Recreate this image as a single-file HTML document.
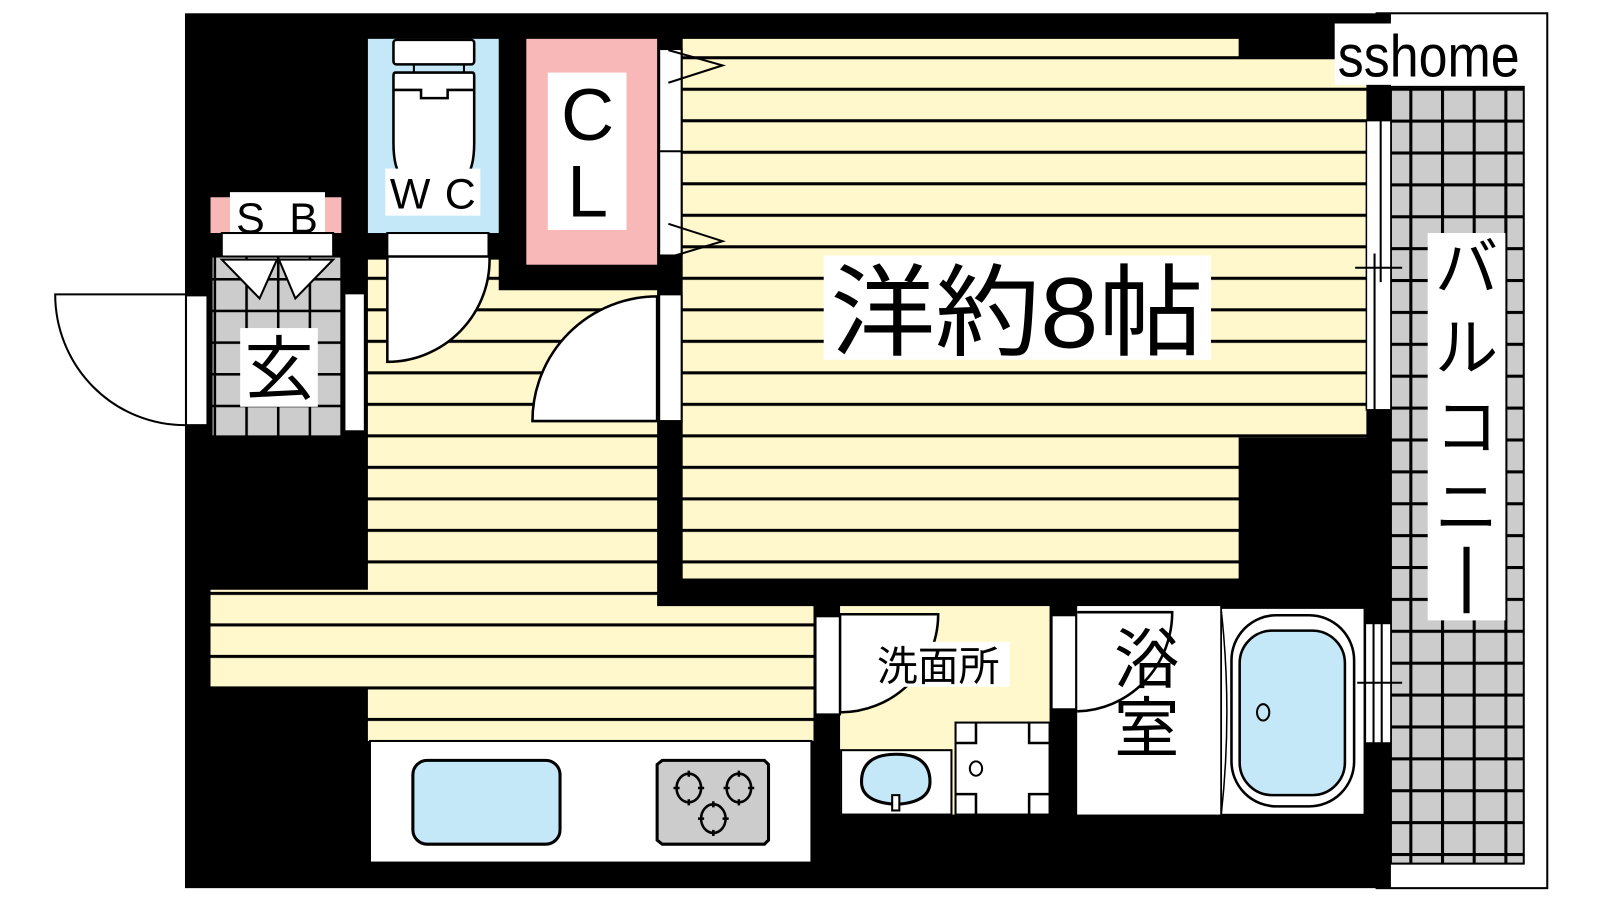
<!DOCTYPE html>
<html><head><meta charset="utf-8"><style>
html,body{margin:0;padding:0;background:#fff;}
svg{display:block;}
text{font-family:"Liberation Sans","Noto Sans CJK JP",sans-serif;}
</style></head><body>
<svg width="1600" height="900" viewBox="0 0 1565.6 880.6" preserveAspectRatio="none" xmlns="http://www.w3.org/2000/svg">
<defs>
<pattern id="st" patternUnits="userSpaceOnUse" x="0" y="55" width="2000" height="30.83">
<rect width="2000" height="30.83" fill="#fff8cc"/><rect y="0" width="2000" height="3" fill="#000"/>
</pattern>
<pattern id="gr" patternUnits="userSpaceOnUse" x="209" y="272" width="31" height="31">
<rect width="31" height="31" fill="#cccccc"/><rect x="0" y="0" width="2.5" height="31" fill="#000"/><rect x="0" y="0" width="31" height="2.5" fill="#000"/>
</pattern>
<pattern id="gb" patternUnits="userSpaceOnUse" x="1379" y="117" width="31" height="31.2">
<rect width="31" height="31.2" fill="#cccccc"/><rect x="0" y="0" width="3" height="31.2" fill="#000"/><rect x="0" y="0" width="31" height="3" fill="#000"/>
</pattern>
</defs>
<rect width="1566" height="881" fill="#fff"/>
<rect x="1347" y="13" width="167" height="856" fill="#fff" stroke="#000" stroke-width="2"/>
<rect x="1361" y="85" width="130" height="760" fill="url(#gb)" stroke="#000" stroke-width="2"/>
<rect x="181" y="13" width="1180" height="856" fill="#000"/>
<polygon points="668,38 1212,38 1212,56 1337,56 1337,428 1212,428 1212,566 668,566" fill="url(#st)"/>
<polygon points="360,254 488,254 488,284 643,284 643,593 796,593 796,725 360,725 360,674 206,674 206,577 360,577" fill="url(#st)"/>
<rect x="362" y="725" width="432" height="119" fill="#fff" stroke="#000" stroke-width="2"/>
<rect x="404" y="744" width="144" height="82" rx="14" fill="#c5e8f8" stroke="#000" stroke-width="3"/>
<path d="M648,744 H748 L752,748 V822 L748,826 H648 L643,822 V748 Z" fill="#ccc" stroke="#000" stroke-width="3"/>
<g fill="none" stroke="#000" stroke-width="2.5">
<ellipse cx="674" cy="771" rx="12" ry="14"/><ellipse cx="723" cy="771" rx="12" ry="14"/><ellipse cx="698" cy="801" rx="12" ry="14"/>
<path d="M674,754v6M674,782v6M659,771h6M683,771h6M723,754v6M723,782v6M708,771h6M732,771h6M698,784v6M698,812v6M683,801h6M707,801h6"/>
</g>
<rect x="645" y="288" width="22" height="124" fill="#fff" stroke="#000" stroke-width="2"/>
<path d="M643,290 A122,122 0 0 0 521,412 L643,412 Z" fill="#fff" stroke="#000" stroke-width="2.5"/>
<rect x="360" y="38" width="128" height="190" fill="#c5e8f8"/>
<rect x="385" y="39" width="79" height="24" rx="3" fill="#fff" stroke="#000" stroke-width="2.5"/>
<path d="M405,63v8M454,63v8" stroke="#000" stroke-width="2"/>
<path d="M387,71 H462 Q464,71 464,74 V140 Q464,165 455,175 H394 Q385,165 385,140 V74 Q385,71 387,71 Z" fill="#fff" stroke="#000" stroke-width="2.5"/>
<path d="M385,88 H412 V96 H438 V88 H464" fill="none" stroke="#000" stroke-width="2.5"/>
<rect x="377" y="165" width="93" height="46" fill="#fff"/>
<text x="423.5" y="204" font-size="42" text-anchor="middle" textLength="84" lengthAdjust="spacing">W C</text>
<rect x="379" y="228" width="99" height="23" fill="#fff" stroke="#000" stroke-width="2"/>
<path d="M379,251 L479,251 A100,100 0 0 1 379,354 Z" fill="#fff" stroke="#000" stroke-width="2.5"/>
<rect x="515" y="38" width="128" height="221" fill="#f8b8b8"/>
<rect x="536" y="71" width="77" height="154" fill="#fff"/>
<text x="575" y="137" font-size="72" text-anchor="middle">C</text>
<text x="575" y="212" font-size="72" text-anchor="middle">L</text>
<rect x="645" y="48" width="22" height="202" fill="#fff" stroke="#000" stroke-width="2"/>
<path d="M645,148h22" stroke="#000" stroke-width="2"/>
<path d="M654,49 L707,64 L654,81 M654,219 L707,236 L654,252" fill="none" stroke="#000" stroke-width="2"/>
<rect x="206" y="193" width="128" height="35" fill="#f8b8b8"/>
<rect x="225" y="188" width="93" height="45" fill="#fff"/>
<text x="271" y="228" font-size="42" text-anchor="middle" textLength="80" lengthAdjust="spacing">S B</text>
<rect x="217" y="228" width="109" height="23" fill="#fff" stroke="#000" stroke-width="2"/>
<rect x="207" y="251" width="128" height="176" fill="url(#gr)" stroke="#000" stroke-width="2"/>
<path d="M217,254 L254,292 L271,254 Z M273,254 L289,292 L326,254 Z" fill="#fff" stroke="#000" stroke-width="2"/>
<rect x="235" y="321" width="76" height="77" fill="#fff"/>
<text x="273" y="385" font-size="68" text-anchor="middle">玄</text>
<rect x="182" y="289" width="21" height="127" fill="#fff" stroke="#000" stroke-width="2"/>
<rect x="337" y="287" width="20" height="135" fill="#fff" stroke="#000" stroke-width="2"/>
<path d="M181,288 H54 A127,128 0 0 0 181,416" fill="none" stroke="#000" stroke-width="2"/>
<rect x="822" y="593" width="205" height="204" fill="#fff8cc"/>
<rect x="798" y="603" width="24" height="96" fill="#fff" stroke="#000" stroke-width="2"/>
<path d="M822,601 H918 A96,96 0 0 1 822,697 Z" fill="#fff" stroke="#000" stroke-width="2.5"/>
<rect x="849" y="628" width="139" height="44" fill="#fff"/>
<text x="918" y="666" font-size="40" text-anchor="middle">洗面所</text>
<rect x="823" y="734" width="108" height="63" fill="#fff" stroke="#000" stroke-width="2"/>
<path d="M843,765 Q843,738 877,738 Q910,738 910,765 Q910,785 877,787 Q843,785 843,765 Z" fill="#c5e8f8" stroke="#000" stroke-width="3"/>
<rect x="873" y="778" width="7" height="15" fill="#fff" stroke="#000" stroke-width="2"/>
<rect x="935" y="707" width="92" height="90" fill="#fff" stroke="#000" stroke-width="2"/>
<path d="M935,727 H955 V707 M1007,707 V727 H1027 M935,777 H955 V797 M1007,797 V777 H1027" fill="none" stroke="#000" stroke-width="2.5"/>
<ellipse cx="955" cy="752" rx="6" ry="7" fill="none" stroke="#000" stroke-width="2"/>
<rect x="1054" y="593" width="140" height="204" fill="#fff"/>
<rect x="1029" y="602" width="24" height="92" fill="#fff" stroke="#000" stroke-width="2"/>
<path d="M1054,599 H1147 A95,97 0 0 1 1054,696" fill="none" stroke="#000" stroke-width="2.5"/>
<text x="1122" y="668" font-size="64" text-anchor="middle">浴</text>
<text x="1122" y="735" font-size="64" text-anchor="middle">室</text>
<rect x="1195" y="595" width="140" height="202" fill="#fff" stroke="#000" stroke-width="1.5"/>
<path d="M1195,597 Q1206,697 1195,797" fill="none" stroke="#000" stroke-width="1.5"/>
<rect x="1205" y="602" width="120" height="187" rx="44" fill="#fff" stroke="#000" stroke-width="2.5"/>
<rect x="1213" y="617" width="103" height="161" rx="32" fill="#c5e8f8" stroke="#000" stroke-width="2.5"/>
<ellipse cx="1236" cy="697" rx="6" ry="8" fill="none" stroke="#000" stroke-width="2"/>
<rect x="1336" y="610" width="25" height="117" fill="#fff" stroke="#000" stroke-width="1.5"/>
<path d="M1344,610v117M1352,610v117M1328,668h44" stroke="#000" stroke-width="2"/>
<rect x="1337" y="118" width="24" height="283" fill="#fff" stroke="#000" stroke-width="1.5"/>
<path d="M1351,118v158M1345,248v153M1326,262h46" stroke="#000" stroke-width="2"/>
<rect x="806" y="250" width="379" height="102" fill="#fff"/>
<text x="995" y="340" font-size="98" text-anchor="middle" textLength="365" lengthAdjust="spacingAndGlyphs">洋約8帖</text>
<rect x="1306" y="23" width="183" height="60" fill="#fff"/>
<text x="1398" y="75" font-size="58" text-anchor="middle" textLength="178" lengthAdjust="spacingAndGlyphs">sshome</text>
<rect x="1397" y="228" width="76" height="379" fill="#fff"/>
<g font-size="62" text-anchor="middle">
<text x="1435" y="284">バ</text><text x="1435" y="362">ル</text><text x="1435" y="440">コ</text><text x="1435" y="518">ニ</text>
</g>
<rect x="1432" y="535" width="6" height="65" fill="#000"/>
</svg>
</body></html>
